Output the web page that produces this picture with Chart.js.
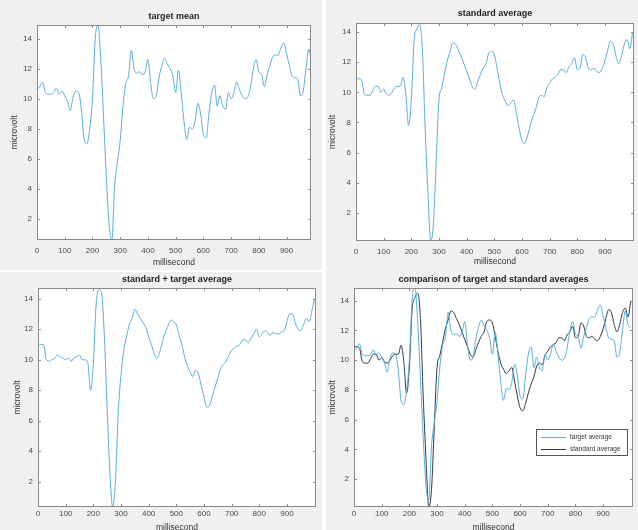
<!DOCTYPE html>
<html>
<head>
<meta charset="utf-8">
<script src="https://cdn.jsdelivr.net/npm/chart.js@4.4.1/dist/chart.umd.min.js"></script>
<style>
  html, body { margin: 0; padding: 0; background: #fff; }
  #wrap { position: relative; width: 638px; height: 530px; overflow: hidden; background: #f0f0f0; }
  .panel { position: absolute; }
  .panel canvas { display: block; }
  .sep { position: absolute; background: #fff; }
</style>
</head>
<body>
<div id="wrap">
  <div class="panel" style="left:0;top:0"><canvas id="c1" width="322" height="270"></canvas></div>
  <div class="panel" style="left:326px;top:0"><canvas id="c2" width="312" height="270"></canvas></div>
  <div class="panel" style="left:0;top:272px"><canvas id="c3" width="322" height="258"></canvas></div>
  <div class="panel" style="left:326px;top:272px"><canvas id="c4" width="312" height="258"></canvas></div>
  <div class="sep" style="left:322px;top:0;width:4px;height:530px"></div>
  <div class="sep" style="left:0;top:270px;width:322px;height:2px"></div>
</div>
<script>
// time axis in ms
const timeMs = [
  0, 10, 20, 30, 40, 50, 60, 70, 80, 90,
  100, 110, 120, 130, 140, 150, 160, 170, 180, 190,
  200, 210, 220, 230, 240, 250, 260, 270, 280, 290,
  300, 310, 320, 330, 340, 350, 360, 370, 380, 390,
  400, 410, 420, 430, 440, 450, 460, 470, 480, 490,
  500, 510, 520, 530, 540, 550, 560, 570, 580, 590,
  600, 610, 620, 630, 640, 650, 660, 670, 680, 690,
  700, 710, 720, 730, 740, 750, 760, 770, 780, 790,
  800, 810, 820, 830, 840, 850, 860, 870, 880, 890,
  900, 910, 920, 930, 940, 950, 960, 970, 980, 990,
  1000
];

const xTickValues = [0, 100, 200, 300, 400, 500, 600, 700, 800, 900];
const yTickValues = [2, 4, 6, 8, 10, 12, 14];

// microvolt values
const targetAvg = [
  10.6, 10.8, 11.1, 10.4, 10.3, 10.3, 10.4, 10.7, 10.3, 10.5,
  10.2, 9.8, 9.2, 10.1, 10.5, 10.4, 9.3, 7.3, 7.0, 8.0,
  10.0, 14.0, 14.9, 12.6, 8.8, 4.8, 1.6, 0.6, 4.2, 5.8,
  7.2, 9.5, 11.0, 11.5, 13.2, 12.0, 11.7, 11.8, 11.6, 11.8,
  12.6, 11.0, 10.0, 10.2, 11.4, 12.2, 12.7, 12.3, 12.0, 11.5,
  10.4, 11.9, 10.4, 8.5, 7.3, 8.1, 8.0, 8.5, 9.7, 9.0,
  7.6, 7.4, 9.0, 10.4, 10.9, 9.5, 10.2, 9.5, 9.3, 10.4,
  10.0, 10.4, 11.1, 10.6, 10.2, 10.0, 10.1, 10.8, 12.0, 12.6,
  11.8, 11.6, 10.8, 11.6, 12.2, 12.8, 12.9, 12.9, 13.4, 13.7,
  13.0, 12.2, 11.5, 11.4, 11.3, 10.2, 10.5, 12.0, 13.3, 12.4,
  12.2
];

const standardAvg = [
  10.9, 10.9, 10.8, 9.9, 9.8, 9.8, 10.1, 10.4, 10.4, 10.0,
  10.2, 9.9, 9.8, 10.0, 10.3, 10.4, 10.4, 11.0, 9.9, 7.8,
  9.5, 13.4, 14.2, 14.5, 12.8, 7.6, 3.4, 0.15, 1.3, 5.5,
  9.5, 10.3, 11.2, 12.1, 12.7, 13.3, 13.2, 12.8, 12.4, 11.9,
  11.4, 10.9, 10.4, 10.2, 10.7, 11.2, 11.6, 11.9, 12.6, 12.7,
  12.5, 11.6, 10.6, 9.8, 9.4, 9.1, 9.3, 9.5, 8.6, 7.6,
  6.8, 6.6, 7.1, 7.8, 8.4, 8.9, 9.6, 9.8, 9.7, 10.3,
  10.6, 10.9, 11.0, 11.2, 11.5, 11.5, 11.3, 11.7, 11.9, 12.3,
  11.5, 11.6, 12.5, 12.3, 11.6, 11.5, 11.6, 11.4, 11.3, 11.6,
  12.1, 12.8, 13.4, 13.2, 12.4, 11.9, 12.4, 13.2, 13.5, 12.9,
  14.0
];

const combinedAvg = [
  10.9, 11.0, 11.0, 10.0, 9.9, 10.0, 10.1, 10.3, 10.2, 10.1,
  10.0, 10.1, 9.9, 10.1, 10.2, 10.3, 10.0, 10.0, 9.8, 8.0,
  9.7, 13.6, 14.6, 14.3, 11.5, 6.8, 2.6, 0.35, 2.0, 6.5,
  9.0, 10.6, 11.5, 12.3, 12.7, 13.3, 13.0, 12.7, 12.4, 12.1,
  11.5, 11.0, 10.4, 10.1, 10.5, 11.2, 11.8, 12.2, 12.6, 12.5,
  12.3, 11.6, 11.0, 10.2, 9.6, 9.2, 8.9, 9.3, 9.1, 8.3,
  7.6, 6.9, 7.0, 7.6, 8.2, 8.8, 9.4, 9.7, 9.9, 10.3,
  10.6, 10.8, 10.9, 11.0, 11.3, 11.3, 11.1, 11.4, 11.7, 12.0,
  11.5, 11.7, 11.9, 11.8, 11.6, 11.8, 11.7, 11.7, 11.8, 11.9,
  12.5, 13.0, 13.0, 12.4, 12.0, 11.9, 12.3, 12.7, 12.5, 13.2,
  14.0
];

const FONT = '"Liberation Sans", Arial, Helvetica, sans-serif';
const LIGHT_BLUE = '#5aaee0';
const DARK_LINE = '#2e3a46';

function points(values) {
  return timeMs.map((t, i) => ({x: t, y: values[i]}));
}

function line(label, values, color) {
  return {
    label,
    data: points(values),
    borderColor: color,
    borderWidth: 1,
    pointRadius: 0,
    cubicInterpolationMode: 'monotone',
    fill: false
  };
}

// white axes area, box with inward ticks on all four sides
const matlabAxes = {
  id: 'matlabAxes',
  beforeDatasetsDraw(chart) {
    const {ctx, chartArea: a} = chart;
    ctx.save();
    ctx.fillStyle = '#fff';
    ctx.fillRect(a.left, a.top, a.right - a.left, a.bottom - a.top);
    ctx.restore();
  },
  afterDraw(chart) {
    const {ctx, chartArea: a, scales: {x, y}} = chart;
    ctx.save();
    ctx.strokeStyle = '#8a8a8a';
    ctx.lineWidth = 1;
    ctx.strokeRect(Math.round(a.left) + 0.5, Math.round(a.top) + 0.5,
      Math.round(a.right - a.left) - 1, Math.round(a.bottom - a.top) - 1);
    ctx.beginPath();
    x.ticks.forEach(t => {
      const px = Math.round(x.getPixelForValue(t.value)) + 0.5;
      ctx.moveTo(px, a.bottom); ctx.lineTo(px, a.bottom - 3);
      ctx.moveTo(px, a.top); ctx.lineTo(px, a.top + 3);
    });
    y.ticks.forEach(t => {
      const py = Math.round(y.getPixelForValue(t.value)) + 0.5;
      ctx.moveTo(a.left, py); ctx.lineTo(a.left + 3, py);
      ctx.moveTo(a.right, py); ctx.lineTo(a.right - 3, py);
    });
    ctx.stroke();
    ctx.restore();
  }
};

// legend drawn inside the axes (lower right)
const boxLegend = {
  id: 'boxLegend',
  afterDraw(chart, args, opts) {
    if (!opts || !opts.display) return;
    const {ctx} = chart;
    ctx.save();
    ctx.fillStyle = '#fff';
    ctx.fillRect(opts.x, opts.y, opts.w, opts.h);
    ctx.strokeStyle = '#555';
    ctx.lineWidth = 1;
    ctx.strokeRect(opts.x + 0.5, opts.y + 0.5, opts.w - 1, opts.h - 1);
    ctx.font = '6.5px ' + FONT;
    ctx.textBaseline = 'middle';
    ctx.fillStyle = '#333';
    chart.data.datasets.forEach((ds, i) => {
      const yy = opts.y + 8 + i * 12 + 0.5;
      ctx.strokeStyle = ds.borderColor;
      ctx.beginPath();
      ctx.moveTo(opts.x + 5, yy);
      ctx.lineTo(opts.x + 30, yy);
      ctx.stroke();
      ctx.fillText(ds.label, opts.x + 34, yy);
    });
    ctx.restore();
  }
};

function panelOptions(c) {
  return {
    responsive: false,
    animation: false,
    layout: {padding: {left: 0, right: c.padRight, top: 0, bottom: 0}},
    plugins: {
      legend: {display: false},
      tooltip: {enabled: false},
      title: {
        display: true,
        text: c.title,
        fullSize: false,
        color: '#1f1f1f',
        font: {family: FONT, size: 9, weight: 'bold'},
        padding: {top: c.titleTop, bottom: c.titleBottom}
      },
      boxLegend: c.legend || {display: false}
    },
    scales: {
      x: {
        type: 'linear',
        min: 0,
        max: c.xMax,
        afterFit: s => { s.height = c.xAxisH; },
        afterBuildTicks: s => { s.ticks = xTickValues.map(v => ({value: v})); },
        grid: {display: false, drawTicks: false, tickLength: 0},
        border: {display: false},
        ticks: {
          autoSkip: false, maxRotation: 0,
          padding: c.xTickPad, color: '#4a4a4a', font: {family: FONT, size: 8}
        },
        title: {
          display: true, text: 'millisecond', color: '#333',
          font: {family: FONT, size: 8.5}, padding: {top: 0, bottom: c.xTitlePad}
        }
      },
      y: {
        min: c.yMin,
        max: c.yMax,
        afterFit: s => { s.width = c.yAxisW; },
        afterBuildTicks: s => { s.ticks = yTickValues.map(v => ({value: v})); },
        grid: {display: false, drawTicks: false, tickLength: 0},
        border: {display: false},
        ticks: {
          padding: 5, color: '#4a4a4a', font: {family: FONT, size: 8}
        },
        title: {
          display: true, text: 'microvolt', color: '#333',
          font: {family: FONT, size: 8.5}, padding: {top: c.yTitlePad, bottom: 0}
        }
      }
    }
  };
}

new Chart(document.getElementById('c1'), {
  type: 'line',
  data: {datasets: [line('target mean', targetAvg, LIGHT_BLUE)]},
  options: panelOptions({
    title: 'target mean', padRight: 11, titleTop: 11.6, titleBottom: 2.6,
    xMax: 988, xAxisH: 30, xTickPad: 6, xTitlePad: 2,
    yMin: 0.6, yMax: 14.9, yAxisW: 37, yTitlePad: 10
  }),
  plugins: [matlabAxes]
});

new Chart(document.getElementById('c2'), {
  type: 'line',
  data: {datasets: [line('standard average', standardAvg, LIGHT_BLUE)]},
  options: panelOptions({
    title: 'standard average', padRight: 4, titleTop: 8.6, titleBottom: 3.6,
    xMax: 1005, xAxisH: 29, xTickPad: 6, xTitlePad: 3,
    yMin: 0.13, yMax: 14.6, yAxisW: 30, yTitlePad: 2
  }),
  plugins: [matlabAxes]
});

new Chart(document.getElementById('c3'), {
  type: 'line',
  data: {datasets: [line('standard + target average', combinedAvg, LIGHT_BLUE)]},
  options: panelOptions({
    title: 'standard + target average', padRight: 6, titleTop: 2.6, titleBottom: 2.6,
    xMax: 1005, xAxisH: 23, xTickPad: 2, xTitlePad: -3,
    yMin: 0.35, yMax: 14.7, yAxisW: 38, yTitlePad: 13
  }),
  plugins: [matlabAxes]
});

new Chart(document.getElementById('c4'), {
  type: 'line',
  data: {
    datasets: [
      line('target average', targetAvg, LIGHT_BLUE),
      line('standard average', standardAvg, DARK_LINE)
    ]
  },
  options: panelOptions({
    title: 'comparison of target and standard averages', padRight: 5, titleTop: 2.6, titleBottom: 2.6,
    xMax: 1008, xAxisH: 23, xTickPad: 2, xTitlePad: -3,
    yMin: 0.13, yMax: 14.85, yAxisW: 28, yTitlePad: 2,
    legend: {display: true, x: 210, y: 157, w: 92, h: 27}
  }),
  plugins: [matlabAxes, boxLegend]
});
</script>
</body>
</html>
